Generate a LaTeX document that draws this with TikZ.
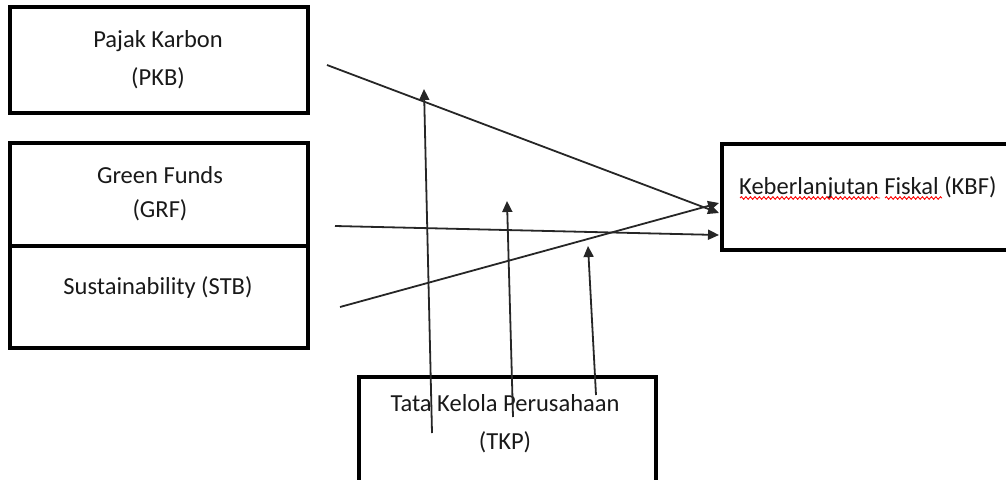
\documentclass[tikz,border=0pt]{standalone}
\usepackage{fontspec}
\setmainfont{Carlito}
\usetikzlibrary{arrows.meta,decorations.pathmorphing}
\tikzset{
  box/.style={draw=black, line width=3.6pt, inner sep=0pt},
  lbl/.style={inner sep=0pt, anchor=base, text=black!90, font=\fontsize{24.5}{28}\selectfont},
  link/.style={line width=1.8pt, draw=black!85, -{Triangle[length=11pt,width=10pt]}},
  spell/.style={draw=red, line width=0.9pt, decorate, decoration={snake, amplitude=1.3pt, segment length=4.5pt}}
}
\begin{document}
\begin{tikzpicture}[x=1pt,y=-1pt]
\useasboundingbox (0,0) rectangle (1006,479);
% boxes
\node[box, minimum width=298pt, minimum height=106pt] (pkb) at (159,60) {};
\node[box, minimum width=298pt, minimum height=103pt] (grf) at (159,194.5) {};
\node[box, minimum width=298pt, minimum height=102pt] (stb) at (159,297) {};
\node[box, minimum width=290pt, minimum height=106pt, anchor=north west] (kbf) at (720,142) {};
\node[box, minimum width=297pt, minimum height=106pt, anchor=north west] (tkp) at (357,375) {};
% labels
\node[lbl] (pkb1) at (158,47) {Pajak Karbon};
\node[lbl] (pkb2) at (158,85) {(PKB)};
\node[lbl] (grf1) at (160,183) {Green Funds};
\node[lbl] (grf2) at (160,217) {(GRF)};
\node[lbl] (stb1) at (158,294) {Sustainability (STB)};
\node[lbl, anchor=base west] (kbf1) at (739,194) {Keberlanjutan Fiskal (KBF)};
\node[lbl] (tkp1) at (505,411) {Tata Kelola Perusahaan};
\node[lbl] (tkp2) at (505,449) {(TKP)};
% spelling marks
\path[spell] (740,198) -- (880,198);
\path[spell] (885,198) -- (942,198);
% connector end points
\coordinate (s1) at (327,65);
\coordinate (e1) at (719,213);
\coordinate (s2) at (335,226);
\coordinate (e2) at (719,235);
\coordinate (s3) at (340,307);
\coordinate (e3) at (719,203);
\coordinate (m1s) at (432,433);
\coordinate (m1e) at (424,89);
\coordinate (m2s) at (513,417);
\coordinate (m2e) at (507,201);
\coordinate (m3s) at (596,395);
\coordinate (m3e) at (588,246);
% connectors
\draw[link] (s1) -- (e1);
\draw[link] (s2) -- (e2);
\draw[link] (s3) -- (e3);
\draw[link] (m1s) -- (m1e);
\draw[link] (m2s) -- (m2e);
\draw[link] (m3s) -- (m3e);
\end{tikzpicture}
\end{document}
